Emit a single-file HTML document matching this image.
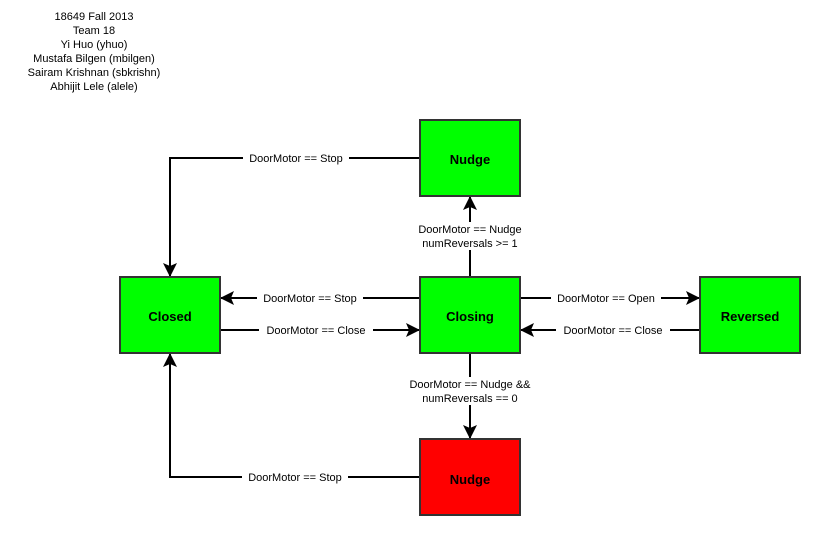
<!DOCTYPE html>
<html><head><style>
body{margin:0;background:#fff;width:820px;height:535px;overflow:hidden}
text{font-family:"Liberation Sans",Arial,sans-serif}
</style></head><body>
<svg width="820" height="535" viewBox="0 0 820 535" xmlns="http://www.w3.org/2000/svg">
<defs><marker id="a" markerWidth="14" markerHeight="14" refX="13" refY="7" orient="auto" markerUnits="userSpaceOnUse"><path d="M0,0 L14,7 L0,14 L3,7 z" fill="#000"/></marker></defs>
<g font-size="11" text-anchor="middle" fill="#000" textLength="">
<text x="94" y="20">18649 Fall 2013</text>
<text x="94" y="34">Team 18</text>
<text x="94" y="48">Yi Huo (yhuo)</text>
<text x="94" y="62">Mustafa Bilgen (mbilgen)</text>
<text x="94" y="76">Sairam Krishnan (sbkrishn)</text>
<text x="94" y="90">Abhijit Lele (alele)</text>
</g>
<g stroke="#000" stroke-width="2" fill="none">
<path d="M420,158 H170 V276" marker-end="url(#a)"/>
<path d="M420,298 H221" marker-end="url(#a)"/>
<path d="M220,330 H419" marker-end="url(#a)"/>
<path d="M520,298 H699" marker-end="url(#a)"/>
<path d="M700,330 H521" marker-end="url(#a)"/>
<path d="M470,277 V197" marker-end="url(#a)"/>
<path d="M470,353 V438" marker-end="url(#a)"/>
<path d="M420,477 H170 V354" marker-end="url(#a)"/>
</g>
<g stroke="#333" stroke-width="2">
<rect x="420" y="120" width="100" height="76" fill="#00ff00"/>
<rect x="120" y="277" width="100" height="76" fill="#00ff00"/>
<rect x="420" y="277" width="100" height="76" fill="#00ff00"/>
<rect x="700" y="277" width="100" height="76" fill="#00ff00"/>
<rect x="420" y="439" width="100" height="76" fill="#ff0000"/>
</g>
<g font-size="13" font-weight="bold" text-anchor="middle">
<text x="470" y="164">Nudge</text>
<text x="170" y="321">Closed</text>
<text x="470" y="321">Closing</text>
<text x="750" y="321">Reversed</text>
<text x="470" y="484">Nudge</text>
</g>
<g font-size="11" text-anchor="middle">
<rect x="243" y="151" width="106" height="14" fill="#fff"/><text x="296" y="162">DoorMotor == Stop</text>
<rect x="257" y="291" width="106" height="14" fill="#fff"/><text x="310" y="302">DoorMotor == Stop</text>
<rect x="259" y="323" width="114" height="14" fill="#fff"/><text x="316" y="334">DoorMotor == Close</text>
<rect x="551" y="291" width="110" height="14" fill="#fff"/><text x="606" y="302">DoorMotor == Open</text>
<rect x="556" y="323" width="114" height="14" fill="#fff"/><text x="613" y="334">DoorMotor == Close</text>
<rect x="410" y="222" width="120" height="28" fill="#fff"/><text x="470" y="233">DoorMotor == Nudge</text><text x="470" y="247">numReversals &gt;= 1</text>
<rect x="400" y="377" width="140" height="28" fill="#fff"/><text x="470" y="388">DoorMotor == Nudge &amp;&amp;</text><text x="470" y="402">numReversals == 0</text>
<rect x="242" y="470" width="106" height="14" fill="#fff"/><text x="295" y="481">DoorMotor == Stop</text>
</g>
</svg>
</body></html>
